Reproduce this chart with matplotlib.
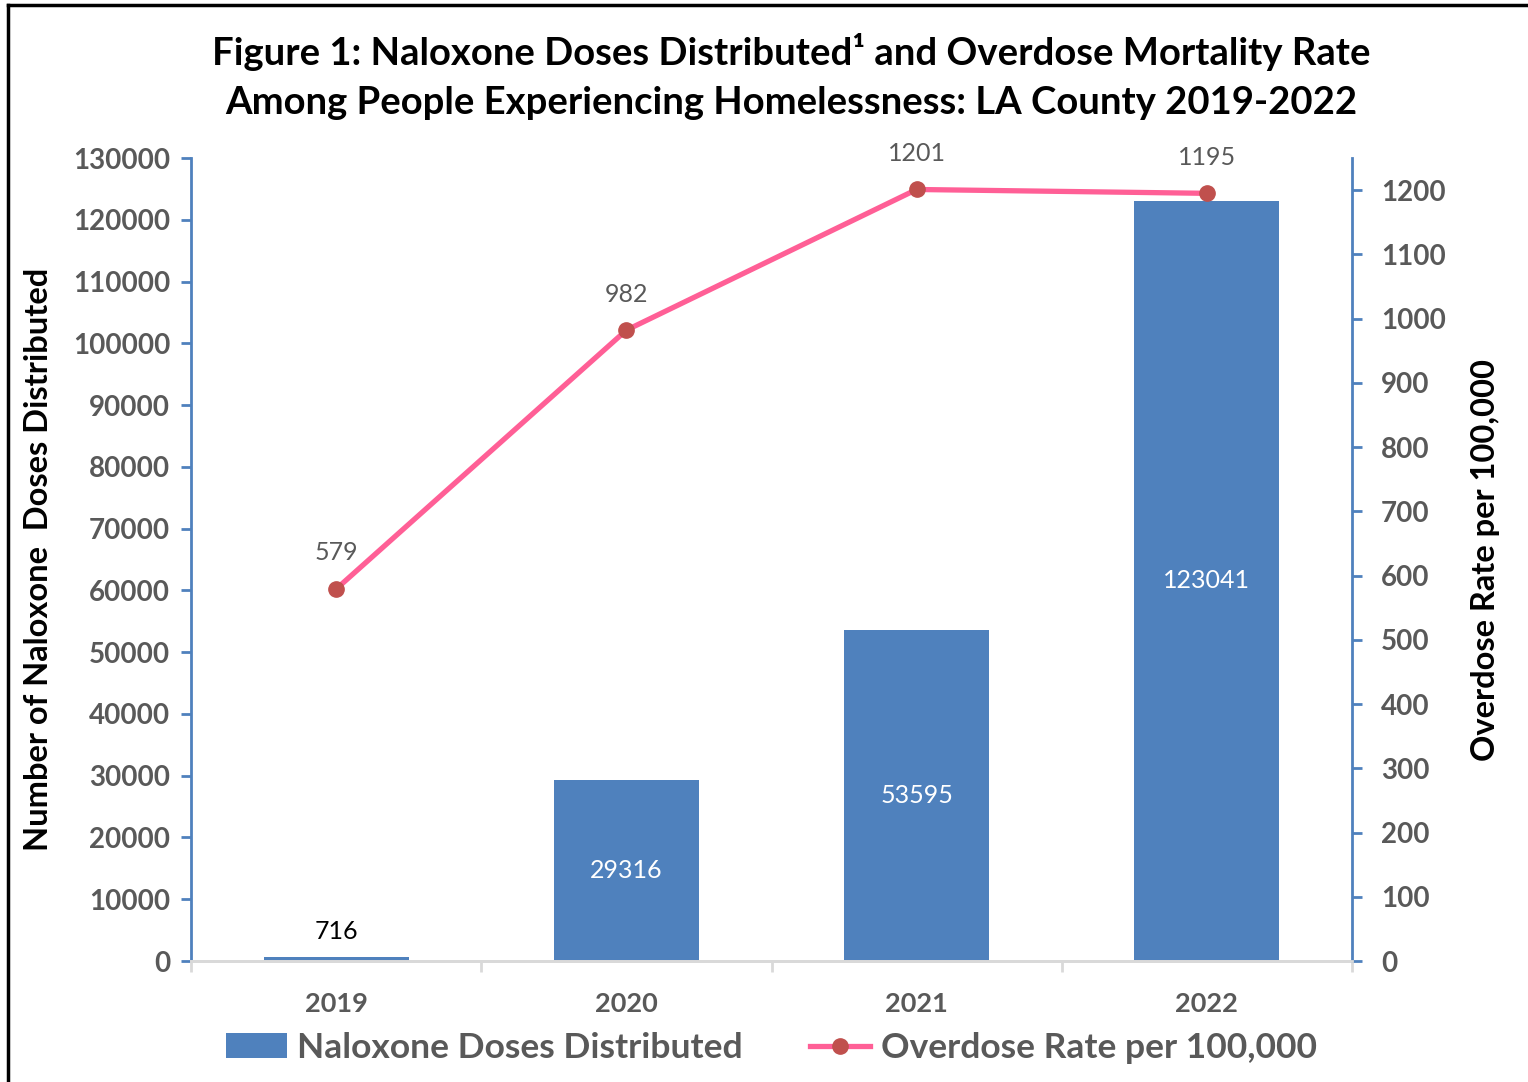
import numpy as np
import matplotlib.pyplot as plt
from matplotlib.lines import Line2D

# data
years = ['2019', '2020', '2021', '2022']
doses = [716, 29316, 53595, 123041]
overdose_rate = [579, 982, 1201, 1195]

left_ticks = list(range(0, 130001, 10000))
right_ticks = list(range(0, 1201, 100))

BLUE = '#4F81BD'
PINK = '#FF5F96'
DOT = '#C0504D'
GRAY = '#595959'

plt.rcParams['font.family'] = ['Lato', 'DejaVu Sans']

fig = plt.figure(figsize=(15.28, 10.82), dpi=100)
ax = fig.add_axes([191 / 1528, 1 - 961 / 1082, 1161 / 1528, 803 / 1082])
ax2 = ax.twinx()

x = np.arange(len(years))

# bars
bars = ax.bar(x, doses, width=0.5, color=BLUE, zorder=2,
              label='Naloxone Doses Distributed')
ax.set_xlim(-0.5, 3.5)
ax.set_ylim(0, 130000)
ax.set_yticks(left_ticks)
ax.set_yticklabels([str(t) for t in left_ticks], fontsize=20,
                   fontweight='bold', color=GRAY)
for i, v in enumerate(doses):
    if v < 5000:
        ax.annotate(str(v), (x[i], v), xytext=(0, 10), textcoords='offset points',
                    ha='center', va='bottom', fontsize=18, color='black')
    else:
        ax.text(x[i], v / 2, str(v), ha='center', va='center',
                fontsize=18, color='white')

# line
ax2.plot(x, overdose_rate, color=PINK, lw=3.8, marker='o', markersize=11,
         markerfacecolor=DOT, markeredgecolor=DOT, zorder=3,
         label='Overdose Rate per 100,000')
ax2.set_ylim(0, 1250)
ax2.set_yticks(right_ticks)
ax2.set_yticklabels([str(t) for t in right_ticks], fontsize=20,
                    fontweight='bold', color=GRAY)
for i, v in enumerate(overdose_rate):
    ax2.annotate(str(v), (x[i], v), xytext=(0, 26), textcoords='offset points',
                 ha='center', va='center', fontsize=18, color=GRAY)

# x axis
ax.set_xticks(x)
ax.set_xticklabels(years, fontsize=19.5, fontweight='bold', color=GRAY)
ax.set_xticks(np.arange(-0.5, 4, 1), minor=True)
ax.tick_params(axis='x', which='major', length=0, pad=22)
ax.tick_params(axis='x', which='minor', length=8, width=2, color='#D9D9D9')

# spines
for a in (ax, ax2):
    a.spines['top'].set_visible(False)
    a.spines['bottom'].set_color('#D9D9D9')
    a.spines['bottom'].set_linewidth(2)
ax.spines['right'].set_visible(False)
ax.spines['left'].set_color(BLUE)
ax.spines['left'].set_linewidth(2)
ax2.spines['left'].set_visible(False)
ax2.spines['right'].set_color(BLUE)
ax2.spines['right'].set_linewidth(2)
ax.tick_params(axis='y', length=7, width=2, color=BLUE, pad=8)
ax2.tick_params(axis='y', length=7, width=2, color=BLUE, pad=14)

ax.set_ylabel('Number of Naloxone  Doses Distributed', fontsize=23.5,
              fontweight='bold', color='black', labelpad=14)
ax2.set_ylabel('Overdose Rate per 100,000', fontsize=23.5,
               fontweight='bold', color='black', labelpad=18)

# title
fig.text(0.518, 1 - 52 / 1082, 'Figure 1: Naloxone Doses Distributed\u00b9 and Overdose Mortality Rate',
         ha='center', va='center', fontsize=27.5, fontweight='bold')
fig.text(0.518, 1 - 103 / 1082, 'Among People Experiencing Homelessness: LA County 2019-2022',
         ha='center', va='center', fontsize=27.5, fontweight='bold')

# legend
h1, l1 = ax.get_legend_handles_labels()
h2, l2 = ax2.get_legend_handles_labels()
leg = fig.legend(h1 + h2, l1 + l2, loc='center', bbox_to_anchor=(0.505, 1 - 1048 / 1082),
                 ncol=2, frameon=False, fontsize=25.5, columnspacing=1.9,
                 handlelength=1.7, handletextpad=0.3)
for t in leg.get_texts():
    t.set_color(GRAY)
    t.set_fontweight('bold')

# frame around the figure
fig.add_artist(Line2D([8 / 1528, 8 / 1528], [0, 1 - 5 / 1082], color='black', lw=2.5,
                      transform=fig.transFigure))
fig.add_artist(Line2D([8 / 1528, 1], [1 - 5 / 1082, 1 - 5 / 1082], color='black', lw=2.5,
                      transform=fig.transFigure))

fig.savefig('out.png', dpi=100)
